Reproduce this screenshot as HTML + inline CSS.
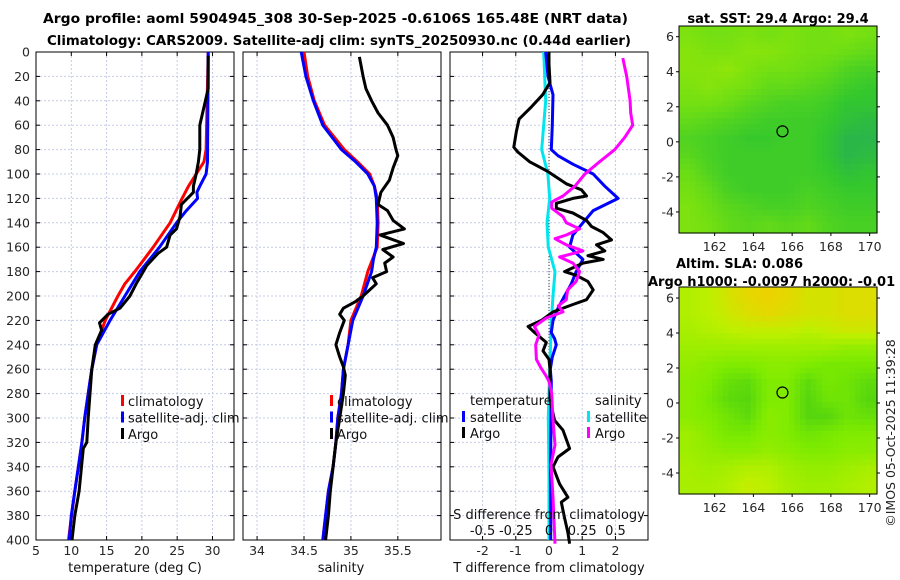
<!DOCTYPE html>
<html><head><meta charset="utf-8"><style>
html,body{margin:0;padding:0;background:#fff;}
svg{display:block;font-family:"DejaVu Sans","Liberation Sans",sans-serif;}
</style></head><body>
<svg id="fig" width="900" height="580" viewBox="0 0 900 580" xmlns="http://www.w3.org/2000/svg">
<text x="43" y="23" font-size="13.5" font-weight="bold" textLength="585" lengthAdjust="spacingAndGlyphs" fill="#000">Argo profile: aoml 5904945_308 30-Sep-2025 -0.6106S 165.48E (NRT data)</text>
<text x="47" y="45" font-size="13.5" font-weight="bold" textLength="584" lengthAdjust="spacingAndGlyphs" fill="#000">Climatology: CARS2009. Satellite-adj clim: synTS_20250930.nc (0.44d earlier)</text>
<text x="778" y="23" font-size="13" font-weight="bold" text-anchor="middle" fill="#000">sat. SST: 29.4 Argo: 29.4</text>
<text x="676" y="268" font-size="13" font-weight="bold" fill="#000">Altim. SLA: 0.086</text>
<text x="648" y="286" font-size="13" font-weight="bold" fill="#000">Argo h1000: -0.0097 h2000: -0.01</text>
<text transform="translate(895,433) rotate(-90)" font-size="12.5" text-anchor="middle" fill="#222">©IMOS 05-Oct-2025 11:39:28</text>
<g id="plots"></g>
</svg>
<script>
// ---------- data ----------
const depthTicks = [0,20,40,60,80,100,120,140,160,180,200,220,240,260,280,300,320,340,360,380,400];
const tempTicks = [5,10,15,20,25,30];
const salTicks = [34,34.5,35,35.5];
const salTickLabels = ["34","34.5","35","35.5"];
const diffTTicks = [-2,-1,0,1,2];
const diffSTicks = [-0.5,-0.25,0,0.25,0.5];
const diffSTickLabels = ["-0.5","-0.25","0","0.25","0.5"];

const climTempDepth = [0,80,90,100,110,120,140,160,180,190,200,220,240,260,280,300,320,340,360,380,400];
const climTemp = [29.4,29.1,28.8,27.7,26.6,25.7,24.0,21.6,19.0,17.6,16.6,14.8,13.6,12.9,12.4,11.9,11.5,11.0,10.5,10.05,9.6];
const satTempDepth = [0,90,100,110,115,120,130,140,160,180,200,220,240,260,280,300,320,340,360,380,400];
const satTemp = [29.4,29.3,29.1,28.2,27.8,27.9,26.3,24.9,22.5,19.7,17.6,15.5,13.6,12.9,12.4,11.9,11.5,11.0,10.5,10.0,9.7];
const argoTempDepth = [3,30,40,60,80,90,100,110,115,125,135,145,150,160,165,175,190,200,210,215,222,228,240,260,300,320,325,360,380,400];
const argoTemp = [29.4,29.4,29.0,28.2,28.2,28.0,27.7,27.3,27.3,25.6,25.4,24.9,24.0,23.5,22.3,20.7,19.2,18.3,16.9,15.2,14.0,14.3,13.4,12.9,12.4,12.2,11.7,11.1,10.5,10.1];

const climSalDepth = [0,20,40,60,80,90,100,110,120,140,160,170,180,200,220,240,260,280,300,320,340,360,380,400];
const climSal = [34.50,34.54,34.61,34.72,34.93,35.07,35.20,35.25,35.28,35.29,35.28,35.23,35.18,35.11,35.00,34.97,34.92,34.90,34.86,34.84,34.81,34.76,34.73,34.70];
const satSal = [34.47,34.52,34.60,34.70,34.90,35.05,35.18,35.25,35.27,35.28,35.27,35.24,35.22,35.13,35.02,34.97,34.92,34.90,34.86,34.84,34.81,34.76,34.73,34.70];
const argoSalDepth = [4,20,30,40,50,60,70,80,85,95,105,115,125,130,138,145,150,157,162,168,173,180,185,190,195,200,205,210,215,220,230,240,250,258,265,280,300,320,340,360,380,400];
const argoSal = [35.09,35.13,35.16,35.22,35.29,35.39,35.45,35.48,35.50,35.45,35.41,35.32,35.29,35.39,35.45,35.57,35.31,35.56,35.34,35.45,35.36,35.38,35.23,35.27,35.20,35.13,35.04,34.92,34.88,34.93,34.88,34.84,34.88,34.92,34.94,34.92,34.88,34.84,34.81,34.78,34.76,34.73];

const satSDiffDepth = [0,40,80,100,120,140,160,180,200,220,260,300,350,400];
const satSDiff = [-0.04,-0.025,-0.055,-0.008,0.005,-0.015,-0.005,0.045,0.03,0.018,0.005,-0.005,0.0,0.0];
const satTDiffDepth = [0,20,30,35,60,80,85,92,100,110,120,130,140,150,160,170,180,190,200,210,220,230,235,240,250,260,270,330,400];
const satTDiff = [-0.1,-0.03,0.07,0.12,0.1,0.07,0.27,0.72,1.33,1.68,2.08,1.33,1.02,0.72,0.62,1.02,0.82,0.67,0.47,0.27,0.12,0.07,0.17,0.22,0.1,0.04,0.07,0.05,0.05];
const argoTDiffDepth = [0,10,25,35,45,55,65,78,82,90,98,108,113,118,120,124,128,132,138,143,148,154,158,163,167,170,173,180,183,188,195,203,207,213,220,225,230,238,245,252,260,285,302,310,325,332,340,354,365,369,382,394,403];
const argoTDiff = [0,0,0.03,-0.19,-0.53,-0.9,-0.98,-1.06,-0.94,-0.58,-0.03,0.52,0.98,1.13,0.72,0.22,0.22,0.72,1.13,1.28,1.63,1.88,1.43,1.68,1.17,1.63,1.02,0.47,0.82,1.17,1.33,1.13,0.72,0.12,-0.23,-0.63,-0.43,-0.08,-0.18,0,0.03,0.03,0.17,0.42,0.62,0.27,0.12,0.32,0.57,0.37,0.47,0.57,0.62];
const argoSDiffDepth = [5,20,40,50,60,70,80,90,100,110,118,123,128,135,140,145,150,153,158,163,168,173,180,188,195,203,208,213,218,225,232,240,252,259,265,270,280,302,322,338,365,403];
const argoSDiff = [0.555,0.585,0.61,0.615,0.63,0.57,0.495,0.38,0.27,0.195,0.105,0.02,0.02,0.105,0.13,0.23,0.13,0.045,0.13,0.255,0.08,0.18,0.23,0.205,0.14,0.13,0.07,0.105,-0.02,-0.11,-0.075,-0.1,-0.095,-0.06,-0.025,0.0,0.02,0.03,0.045,0.015,0.03,0.045];

const lonTicks = [162,164,166,168,170];
const latTicks = [-4,-2,0,2,4,6];
const sstGrid = [
[0.75,0.7,0.7,0.75,0.7,0.75,0.7,0.7,0.75,0.7],
[0.8,0.75,0.75,0.8,0.8,0.75,0.7,0.7,0.65,0.6],
[0.8,0.8,0.85,0.75,0.7,0.7,0.65,0.6,0.5,0.45],
[0.75,0.8,0.75,0.7,0.6,0.6,0.55,0.5,0.4,0.35],
[0.7,0.7,0.65,0.55,0.5,0.45,0.45,0.4,0.3,0.3],
[0.6,0.55,0.5,0.45,0.4,0.4,0.4,0.35,0.25,0.2],
[0.5,0.45,0.4,0.35,0.35,0.4,0.4,0.3,0.15,0.15],
[0.55,0.45,0.4,0.4,0.4,0.4,0.4,0.3,0.15,0.2],
[0.65,0.5,0.4,0.4,0.4,0.4,0.4,0.35,0.25,0.3],
[0.7,0.6,0.45,0.4,0.4,0.4,0.45,0.4,0.35,0.35],
[0.75,0.65,0.55,0.5,0.45,0.45,0.5,0.45,0.4,0.4],
[0.75,0.7,0.6,0.55,0.6,0.55,0.6,0.5,0.45,0.45]];
const slaGrid = [
[0.6,0.65,0.8,0.9,0.95,0.9,0.8,0.8,0.85,0.85],
[0.6,0.65,0.75,0.85,0.9,0.85,0.8,0.8,0.85,0.85],
[0.55,0.6,0.65,0.7,0.7,0.7,0.65,0.7,0.75,0.75],
[0.5,0.5,0.5,0.5,0.5,0.5,0.5,0.5,0.45,0.45],
[0.45,0.4,0.35,0.35,0.4,0.4,0.35,0.3,0.3,0.3],
[0.4,0.35,0.2,0.15,0.35,0.35,0.15,0.3,0.25,0.15],
[0.4,0.3,0.15,0.1,0.35,0.35,0.1,0.25,0.25,0.1],
[0.4,0.35,0.25,0.15,0.4,0.35,0.1,0.1,0.25,0.2],
[0.5,0.4,0.3,0.3,0.4,0.35,0.25,0.3,0.35,0.35],
[0.5,0.45,0.4,0.4,0.45,0.4,0.35,0.35,0.4,0.4],
[0.55,0.5,0.55,0.6,0.6,0.5,0.45,0.45,0.5,0.55],
[0.55,0.55,0.6,0.7,0.65,0.55,0.5,0.5,0.55,0.6]];
const argoLon = 165.5, argoLat = 0.6;

// ---------- drawing ----------
const NS = "http://www.w3.org/2000/svg";
const root = document.getElementById('plots');
function mk(tag, attrs, parent) {
  const e = document.createElementNS(NS, tag);
  for (const k in attrs) e.setAttribute(k, attrs[k]);
  (parent || root).appendChild(e);
  return e;
}
const TOP = 52, BOT = 540;
function yD(d) { return TOP + (d / 400) * (BOT - TOP); }
function lin(d0, d1, r0, r1) { return v => r0 + (v - d0) / (d1 - d0) * (r1 - r0); }

const xT = lin(5, 33.05, 36, 234);
const xS = lin(33.85, 35.96, 243, 441);
const xDT = lin(-2.98, 2.98, 450, 648);
const xDS = lin(-0.745, 0.745, 450, 648);

function panel(x0, x1, xs, ticks, labels, name, showY) {
  const g = mk('g', {});
  
  
  depthTicks.forEach(d => {
    const l = mk('line', {x1: x0, x2: x1, y1: yD(d), y2: yD(d), stroke: '#c5cbe6', 'stroke-width': 1, 'stroke-dasharray': '2,2'}, g);
    
    
    mk('line', {x1: x0, x2: x0 + 4, y1: yD(d), y2: yD(d), stroke: '#000'}, g);
    mk('line', {x1: x1, x2: x1 - 4, y1: yD(d), y2: yD(d), stroke: '#000'}, g);
    if (showY) {
      const t = mk('text', {x: x0 - 6, y: yD(d) + 4.5, 'font-size': 12.5, 'text-anchor': 'end', fill: '#262626'}, g);
      
      
      t.textContent = d;
    }
  });
  ticks.forEach((v, i) => {
    const x = xs(v);
    if (x > x0 + 1 && x < x1 - 1) {
      const l = mk('line', {x1: x, x2: x, y1: TOP, y2: BOT, stroke: '#c5cbe6', 'stroke-width': 1, 'stroke-dasharray': '2,2'}, g);
      
      
    }
    mk('line', {x1: x, x2: x, y1: BOT, y2: BOT - 4, stroke: '#000'}, g);
    mk('line', {x1: x, x2: x, y1: TOP, y2: TOP + 4, stroke: '#000'}, g);
    const t = mk('text', {x: x, y: 555, 'font-size': 12.5, 'text-anchor': 'middle', fill: '#262626'}, g);
    
    
    t.textContent = labels[i];
  });
  const f = mk('rect', {x: x0, y: TOP, width: x1 - x0, height: BOT - TOP, fill: 'none', stroke: '#000', 'stroke-width': 1}, g);
  
  
  return g;
}
function line(depths, vals, xs, color, w, name) {
  const pts = depths.map((d, i) => xs(vals[i]).toFixed(1) + ',' + yD(d).toFixed(1)).join(' ');
  const p = mk('polyline', {points: pts, fill: 'none', stroke: color, 'stroke-width': w, 'stroke-linejoin': 'round'});
  
  
}
function txt(x, y, s, name, opts) {
  const t = mk('text', Object.assign({x: x, y: y, 'font-size': 13, fill: '#111'}, opts || {}));
  
  
  t.textContent = s;
  return t;
}
function legMark(x, y, color) {
  const r = mk('rect', {x: x, y: y - 11, width: 3, height: 11, fill: color});
  
  
}

// panel 1 temperature
panel(36, 234, xT, tempTicks, tempTicks.map(String), 'temperature-panel', true);
line(climTempDepth, climTemp, xT, '#ff0000', 3, 'climatology-temperature-line');
line(satTempDepth, satTemp, xT, '#0000ff', 3, 'satellite-temperature-line');
line(argoTempDepth, argoTemp, xT, '#000000', 3, 'argo-temperature-line');
txt(135, 572, 'temperature (deg C)', 'temperature-axis-title', {'text-anchor': 'middle'});
[['climatology', '#f00'], ['satellite-adj. clim', '#00f'], ['Argo', '#000']].forEach((e, i) => {
  legMark(121, 406 + i * 16.5, e[1]);
  txt(128, 406 + i * 16.5, e[0], 'temperature-legend-entry');
});

// panel 2 salinity
panel(243, 441, xS, salTicks, salTickLabels, 'salinity-panel', false);
line(climSalDepth, climSal, xS, '#ff0000', 3, 'climatology-salinity-line');
line(climSalDepth, satSal, xS, '#0000ff', 3, 'satellite-salinity-line');
line(argoSalDepth, argoSal, xS, '#000000', 3, 'argo-salinity-line');
txt(341, 572, 'salinity', 'salinity-axis-title', {'text-anchor': 'middle'});
[['climatology', '#f00'], ['satellite-adj. clim', '#00f'], ['Argo', '#000']].forEach((e, i) => {
  legMark(330, 406 + i * 16.5, e[1]);
  txt(337, 406 + i * 16.5, e[0], 'salinity-legend-entry');
});

// panel 3 differences
panel(450, 648, xDT, diffTTicks, diffTTicks.map(String), 'difference-panel', false);
const zl = mk('line', {x1: xDT(0), x2: xDT(0), y1: TOP, y2: BOT, stroke: '#333', 'stroke-width': 1, 'stroke-dasharray': '1,2'});


line(satSDiffDepth, satSDiff, xDS, '#00e5ee', 3, 'satellite-salinity-diff-line');
line(satTDiffDepth, satTDiff, xDT, '#0000ff', 3, 'satellite-temperature-diff-line');
line(argoTDiffDepth, argoTDiff, xDT, '#000000', 3, 'argo-temperature-diff-line');
line(argoSDiffDepth, argoSDiff, xDS, '#ff00ff', 3, 'argo-salinity-diff-line');
txt(549, 572, 'T difference from climatology', 'tdiff-axis-title', {'text-anchor': 'middle'});
txt(549, 519, 'S difference from climatology', 'sdiff-axis-title', {'text-anchor': 'middle'});
diffSTicks.forEach((v, i) => txt(xDS(v), 535, diffSTickLabels[i], 'sdiff-tick-label', {'text-anchor': 'middle'}));
txt(470, 405, 'temperature', 'legend-temperature-heading');
legMark(462, 422, '#00f'); txt(470, 422, 'satellite', 'legend-temp-satellite');
legMark(462, 438, '#000'); txt(470, 438, 'Argo', 'legend-temp-argo');
txt(595, 405, 'salinity', 'legend-salinity-heading');
legMark(587, 422, '#00e5ee'); txt(595, 422, 'satellite', 'legend-sal-satellite');
legMark(587, 438, '#f0f'); txt(595, 438, 'Argo', 'legend-sal-argo');

// maps
function mix(a, b, t) { return a.map((v, i) => Math.round(v + (b[i] - v) * t)); }
function ramp(stops, v) {
  const n = stops.length - 1, p = Math.max(0, Math.min(1, v)) * n, i = Math.min(n - 1, Math.floor(p));
  const c = mix(stops[i], stops[i + 1], p - i);
  return 'rgb(' + c.join(',') + ')';
}
function sample(grid, fr, fc) {
  const R = grid.length - 1, C = grid[0].length - 1;
  fr = Math.max(0, Math.min(R, fr)); fc = Math.max(0, Math.min(C, fc));
  const r0 = Math.min(R - 1, Math.floor(fr)), c0 = Math.min(C - 1, Math.floor(fc));
  const tr = fr - r0, tc = fc - c0;
  const a = grid[r0][c0] * (1 - tc) + grid[r0][c0 + 1] * tc;
  const b = grid[r0 + 1][c0] * (1 - tc) + grid[r0 + 1][c0 + 1] * tc;
  return a * (1 - tr) + b * tr;
}
const sstStops = [[35,168,95],[52,200,45],[110,222,20],[170,236,0]];
const slaStops = [[70,205,20],[125,235,0],[190,240,0],[245,205,0]];
function map(x0, x1, y0, y1, grid, stops, name, lat0, lat1) {
  const g = mk('g', {});
  
  
  const lon0 = 160.16, lon1 = 170.38;
  const mx = lin(lon0, lon1, x0, x1), my = lin(lat1, lat0, y0, y1);
  const rows = grid.length, cols = grid[0].length;
  const N = 36;
  const cw = (x1 - x0) / N, ch = (y1 - y0) / N;
  for (let r = 0; r < N; r++) for (let c = 0; c < N; c++) {
    const v = sample(grid, (r + 0.5) / N * rows - 0.5, (c + 0.5) / N * cols - 0.5);
    const cell = mk('rect', {x: (x0 + c * cw).toFixed(2), y: (y0 + r * ch).toFixed(2), width: (cw + 0.6).toFixed(2), height: (ch + 0.6).toFixed(2), fill: ramp(stops, v)}, g);
    
    
  }
  const fr = mk('rect', {x: x0, y: y0, width: x1 - x0, height: y1 - y0, fill: 'none', stroke: '#000'}, g);
  
  
  lonTicks.forEach(v => {
    mk('line', {x1: mx(v), x2: mx(v), y1: y1, y2: y1 + 3, stroke: '#000'}, g);
    const t = mk('text', {x: mx(v), y: y1 + 18, 'font-size': 12.5, 'text-anchor': 'middle', fill: '#262626'}, g);
    
    
    t.textContent = v;
  });
  latTicks.forEach(v => {
    mk('line', {x1: x0, x2: x0 - 3, y1: my(v), y2: my(v), stroke: '#000'}, g);
    mk('line', {x1: x1, x2: x1 + 3, y1: my(v), y2: my(v), stroke: '#000'}, g);
    const t = mk('text', {x: x0 - 5, y: my(v) + 4.5, 'font-size': 12.5, 'text-anchor': 'end', fill: '#262626'}, g);
    
    
    t.textContent = v;
  });
  const c = mk('circle', {cx: mx(argoLon), cy: my(argoLat), r: 5.5, fill: 'none', stroke: '#000', 'stroke-width': 1.2}, g);
  
  
}
map(679, 877, 26, 233, sstGrid, sstStops, 'sst-map', -5.2, 6.61);
map(679, 877, 287, 494, slaGrid, slaStops, 'sla-map', -5.2, 6.63);
</script>
</body></html>
